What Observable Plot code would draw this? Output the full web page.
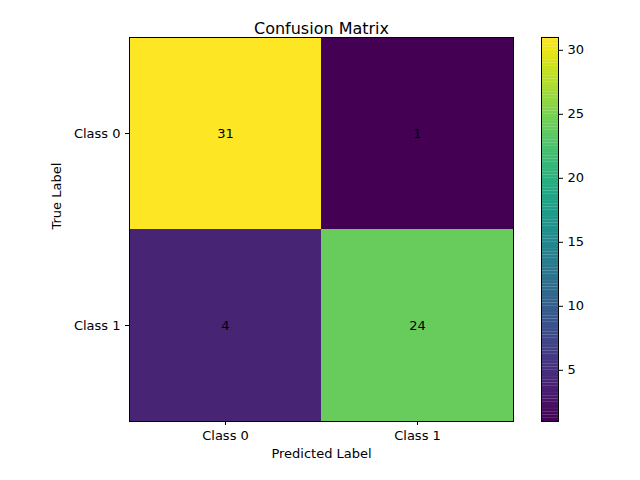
<!DOCTYPE html>
<html><head>
<script src="https://cdn.jsdelivr.net/npm/d3@7"></script>
<script src="https://cdn.jsdelivr.net/npm/@observablehq/plot@0.6"></script>
<style>body{margin:0;background:#fff}#chart{position:relative;width:640px;height:480px;font-family:"DejaVu Sans",sans-serif}#chart svg{position:absolute;left:0;top:0}</style>
</head><body><div id="chart"></div>
<script>
const classes = ["Class 0", "Class 1"];
const counts = [[31, 1], [4, 24]];
const cbTicks = [5, 10, 15, 20, 25, 30];

const cells = [];
classes.forEach((t, i) => classes.forEach((p, j) => cells.push({truth: t, pred: p, n: counts[i][j]})));
const color = {type: "linear", scheme: "viridis", domain: [1, 31]};
const font = "DejaVu Sans, sans-serif";

const main = Plot.plot({
  width: 640, height: 480,
  marginLeft: 129, marginRight: 127, marginTop: 37, marginBottom: 59,
  style: {fontFamily: font, fontSize: "13px", background: "transparent", color: "#000"},
  x: {domain: classes, padding: 0, label: null, tickSize: 4},
  y: {domain: classes, padding: 0, label: null, tickSize: 4},
  color,
  marks: [
    Plot.cell(cells, {x: "pred", y: "truth", fill: "n", inset: 0}),
    Plot.text(cells, {x: "pred", y: "truth", text: "n", fill: "black", fontSize: 13}),
    Plot.frame({stroke: "black"}),
    Plot.text(["Confusion Matrix"], {frameAnchor: "top", dy: -15, fontSize: 16}),
    Plot.text(["Predicted Label"], {frameAnchor: "bottom", dy: 36, fontSize: 13}),
    Plot.text(["True Label"], {frameAnchor: "left", dx: -73, rotate: -90, fontSize: 13})
  ]
});

const ramp = d3.range(1, 31, 0.25);
const bar = Plot.plot({
  width: 640, height: 480,
  marginLeft: 541, marginRight: 82, marginTop: 37, marginBottom: 59,
  style: {fontFamily: font, fontSize: "13px", background: "transparent", color: "#000"},
  x: {axis: null, domain: [0, 1]},
  y: {domain: [1, 31], ticks: cbTicks, axis: "right", label: null, tickSize: 4},
  color,
  marks: [
    Plot.rect(ramp, {x1: 0, x2: 1, y1: d => d, y2: d => d + 0.26, fill: d => d + 0.125}),
    Plot.frame({stroke: "black"})
  ]
});

d3.select("#chart").append(() => main);
d3.select("#chart").append(() => bar);
</script></body></html>
